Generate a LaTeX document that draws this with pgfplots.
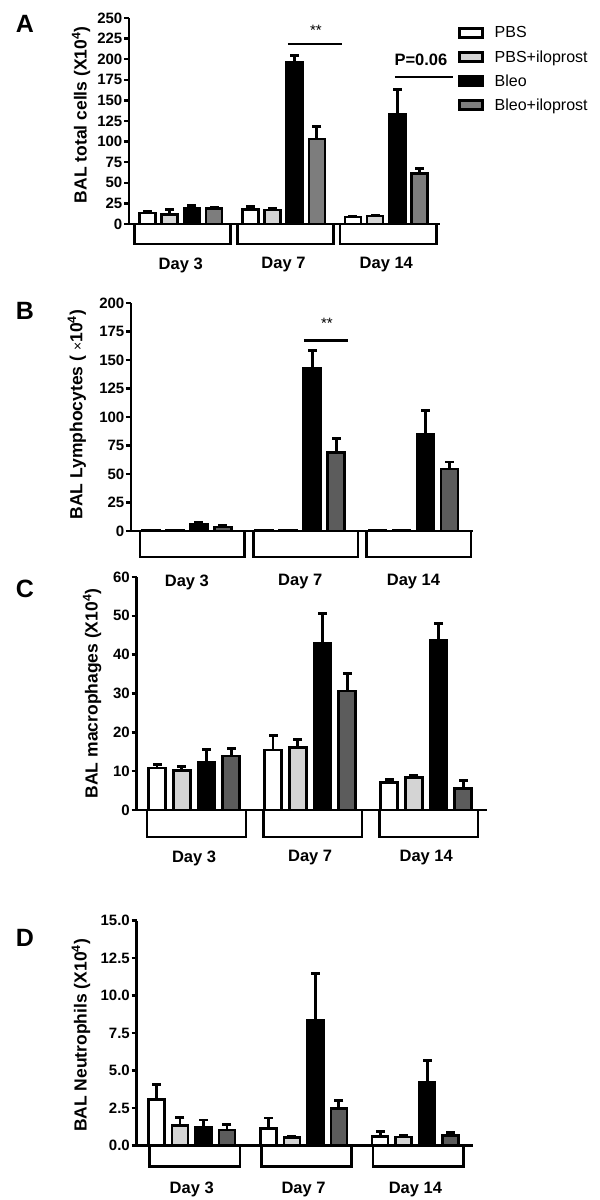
\documentclass[border=0pt]{standalone}
\usepackage{fontspec}
\setmainfont{Liberation Sans}
\usepackage{pgfplots}
\pgfplotsset{compat=1.18}
\definecolor{lg}{HTML}{D4D4D4}
\definecolor{dgA}{HTML}{7D7D7D}
\definecolor{dgB}{HTML}{5C5C5C}
\tikzset{br/.style={line width=2.6pt, line cap=rect}}
\pgfplotsset{
 prism/.style={scale only axis, axis x line=bottom, axis y line=left,
   axis line style={line width=2.6pt,-},
   tick align=outside, major tick length=5pt,
   ytick style={line width=2.4pt,black}, xtick style={draw=none},
   ymin=0, clip=false,
   /pgf/number format/assume math mode=true,
   yticklabel style={font=\fontsize{15}{17}\selectfont\bfseries, inner sep=1.5pt},
   xticklabel style={font=\fontsize{16.5}{19}\selectfont\bfseries, anchor=center},
   every axis y label/.style={rotate=90, anchor=center, font=\fontsize{17.5}{20}\selectfont\bfseries},
   legend image code/.code={\draw[##1] (0pt,-4.5pt) rectangle (23pt,4.5pt); \path (33pt,0pt);},
 },
 barN/.style={ybar, bar shift=0pt, bar width=16pt, draw=black, line width=2.6pt, fill=#1, forget plot},
 errS/.style={ycomb, black, line width=2.8pt, forget plot, mark=-, mark size=4.5pt,
   mark options={line width=2.8pt, solid, black}},
}
\begin{document}
\begin{tikzpicture}
\useasboundingbox (0,0) rectangle (600pt,1200pt);
\node[font=\fontsize{25}{28}\selectfont\bfseries] at (25pt,1176.5pt) {A};
\node[font=\fontsize{25}{28}\selectfont\bfseries] at (25pt,889pt) {B};
\node[font=\fontsize{25}{28}\selectfont\bfseries] at (25pt,611.5pt) {C};
\node[font=\fontsize{25}{28}\selectfont\bfseries] at (25pt,262.5pt) {D};

% ---------------- Panel A
\begin{axis}[prism, at={(129pt,976pt)}, anchor=south west, width=311pt, height=206pt,
  xmin=-0.83, xmax=13.18, ymax=250, ytick={0,25,...,250},
  xtick={1.5,6.13,10.76}, xticklabels={Day 3,Day 7,Day 14}, xticklabel style={yshift=-36pt},
  ylabel={BAL total cells (X10\textsuperscript{4})},
  every axis y label/.append style={at={(axis description cs:-0.154,0.53)}},
  legend style={at={(axis description cs:1.048,0.973)}, anchor=north west, draw=none, fill=none,
    font=\fontsize{16}{19}\selectfont, row sep=9pt, nodes={inner sep=1pt}},
  legend cell align=left]
\addlegendimage{draw=black, line width=2.6pt, fill=white}
\addlegendimage{draw=black, line width=2.6pt, fill=lg}
\addlegendimage{draw=black, line width=2.6pt, fill=black}
\addlegendimage{draw=black, line width=2.6pt, fill=dgA}
\legend{PBS,PBS+iloprost,Bleo,Bleo+iloprost}
% error-bar tops (mean + SEM)
\addplot[errS] coordinates {(0,14.7) (4.63,21) (9.26,9.7) (1,17.5) (5.63,19) (10.26,10.7)
  (2,22.5) (6.63,204) (11.26,163) (3,20.5) (7.63,118) (12.26,67)};
% means
\addplot[barN=white] coordinates {(0,13.5) (4.63,17.5) (9.26,8.5)};
\addplot[barN=lg] coordinates {(1,11.5) (5.63,17) (10.26,9.5)};
\addplot[barN=black] coordinates {(2,19) (6.63,196) (11.26,133)};
\addplot[barN=dgA] coordinates {(3,18.5) (7.63,103) (12.26,61)};
\draw[br] (axis cs:-0.58,0) -- ([yshift=-20pt]axis cs:-0.58,0) -- ([yshift=-20pt]axis cs:3.75,0) -- (axis cs:3.75,0);
\draw[br] (axis cs:4.05,0) -- ([yshift=-20pt]axis cs:4.05,0) -- ([yshift=-20pt]axis cs:8.38,0) -- (axis cs:8.38,0);
\draw[br] (axis cs:8.68,0) -- ([yshift=-20pt]axis cs:8.68,0) -- ([yshift=-20pt]axis cs:13.01,0) -- (axis cs:13.01,0);
\draw[line width=2.6pt] (axis cs:6.33,218.4) -- (axis cs:8.75,218.4);
\node[anchor=base, font=\fontsize{15}{18}\selectfont] at (axis cs:7.59,229) {**};
\draw[line width=2.6pt] (axis cs:11.15,178.4) -- (axis cs:13.76,178.4);
\node[font=\fontsize{16.5}{19}\selectfont\bfseries] at (axis cs:12.32,199) {P=0.06};
\end{axis}

% ---------------- Panel B
\begin{axis}[prism, at={(131pt,669pt)}, anchor=south west, width=342pt, height=228pt,
  xmin=-0.83, xmax=13.42, ymax=200, ytick={0,25,...,200},
  xtick={1.5,6.22,10.94}, xticklabels={Day 3,Day 7,Day 14}, xticklabel style={yshift=-46pt},
  ylabel={BAL Lymphocytes ( {\mdseries\fontsize{14}{16}\selectfont ×}10\textsuperscript{4})},
  every axis y label/.append style={at={(axis description cs:-0.158,0.51)}}]
\addplot[errS] coordinates {(2,7.5) (6.72,158) (11.44,106) (3,4.5) (7.72,81) (12.44,60.5)};
\addplot[barN=white, bar width=17pt] coordinates {(0,0.5) (4.72,1) (9.44,0.5)};
\addplot[barN=lg, bar width=17pt] coordinates {(1,0.5) (5.72,0.8) (10.44,1)};
\addplot[barN=black, bar width=17pt] coordinates {(2,6) (6.72,143) (11.44,85)};
\addplot[barN=dgB, bar width=17pt] coordinates {(3,3.5) (7.72,69) (12.44,54.5)};
\draw[br] (axis cs:-0.45,0) -- ([yshift=-26pt]axis cs:-0.45,0) -- ([yshift=-26pt]axis cs:3.9,0) -- (axis cs:3.9,0);
\draw[br] (axis cs:4.27,0) -- ([yshift=-26pt]axis cs:4.27,0) -- ([yshift=-26pt]axis cs:8.62,0) -- (axis cs:8.62,0);
\draw[br] (axis cs:8.99,0) -- ([yshift=-26pt]axis cs:8.99,0) -- ([yshift=-26pt]axis cs:13.34,0) -- (axis cs:13.34,0);
\draw[line width=2.6pt] (axis cs:6.37,167.3) -- (axis cs:8.2,167.3);
\node[anchor=base, font=\fontsize{15}{18}\selectfont] at (axis cs:7.33,177.2) {**};
\end{axis}

% ---------------- Panel C
\begin{axis}[prism, at={(136.5pt,390pt)}, anchor=south west, width=350pt, height=233pt,
  xmin=-0.83, xmax=13.34, ymax=60, ytick={0,10,...,60},
  xtick={1.5,6.2,10.9}, xticklabels={Day 3,Day 7,Day 14}, xticklabel style={yshift=-43pt},
  ylabel={BAL macrophages (X10\textsuperscript{4})},
  every axis y label/.append style={at={(axis description cs:-0.127,0.50)}}]
\addplot[errS] coordinates {(0,11.8) (4.7,19.2) (9.4,7.8) (1,11.1) (5.7,18.1) (10.4,9.0)
  (2,15.6) (6.7,50.6) (11.4,48.1) (3,15.9) (7.7,35.2) (12.4,7.5)};
\addplot[barN=white, bar width=17pt] coordinates {(0,10.8) (4.7,15.4) (9.4,7.1)};
\addplot[barN=lg, bar width=17pt] coordinates {(1,10.1) (5.7,16.1) (10.4,8.4)};
\addplot[barN=black, bar width=17pt] coordinates {(2,12.3) (6.7,42.8) (11.4,43.7)};
\addplot[barN=dgB, bar width=17pt] coordinates {(3,13.9) (7.7,30.6) (12.4,5.5)};
\draw[br] (axis cs:-0.4,0) -- ([yshift=-27pt]axis cs:-0.4,0) -- ([yshift=-27pt]axis cs:3.6,0) -- (axis cs:3.6,0);
\draw[br] (axis cs:4.3,0) -- ([yshift=-27pt]axis cs:4.3,0) -- ([yshift=-27pt]axis cs:8.3,0) -- (axis cs:8.3,0);
\draw[br] (axis cs:9.0,0) -- ([yshift=-27pt]axis cs:9.0,0) -- ([yshift=-27pt]axis cs:13.0,0) -- (axis cs:13.0,0);
\end{axis}

% ---------------- Panel D
\begin{axis}[prism, at={(136.5pt,54.3pt)}, anchor=south west, width=336.5pt, height=225pt,
  xmin=-0.85, xmax=13.47, ymax=15, ytick={0,2.5,...,15},
  yticklabel style={/pgf/number format/.cd, fixed, fixed zerofill, precision=1},
  xtick={1.5,6.26,11.02}, xticklabels={Day 3,Day 7,Day 14}, xticklabel style={yshift=-39pt},
  ylabel={BAL Neutrophils (X10\textsuperscript{4})},
  every axis y label/.append style={at={(axis description cs:-0.165,0.49)}}]
\addplot[errS] coordinates {(0,4.07) (4.76,1.84) (9.52,0.96) (1,1.89) (5.76,0.6) (10.52,0.71)
  (2,1.71) (6.76,11.47) (11.52,5.67) (3,1.42) (7.76,3.02) (12.52,0.87)};
\addplot[barN=white, bar width=16pt] coordinates {(0,3.07) (4.76,1.13) (9.52,0.6)};
\addplot[barN=lg, bar width=16pt] coordinates {(1,1.33) (5.76,0.53) (10.52,0.58)};
\addplot[barN=black, bar width=16pt] coordinates {(2,1.2) (6.76,8.33) (11.52,4.24)};
\addplot[barN=dgB, bar width=16pt] coordinates {(3,1.04) (7.76,2.47) (12.52,0.69)};
\draw[br] (axis cs:-0.3,0) -- ([yshift=-21pt]axis cs:-0.3,0) -- ([yshift=-21pt]axis cs:3.55,0) -- (axis cs:3.55,0);
\draw[br] (axis cs:4.46,0) -- ([yshift=-21pt]axis cs:4.46,0) -- ([yshift=-21pt]axis cs:8.31,0) -- (axis cs:8.31,0);
\draw[br] (axis cs:9.22,0) -- ([yshift=-21pt]axis cs:9.22,0) -- ([yshift=-21pt]axis cs:13.07,0) -- (axis cs:13.07,0);
\end{axis}
\end{tikzpicture}
\end{document}
